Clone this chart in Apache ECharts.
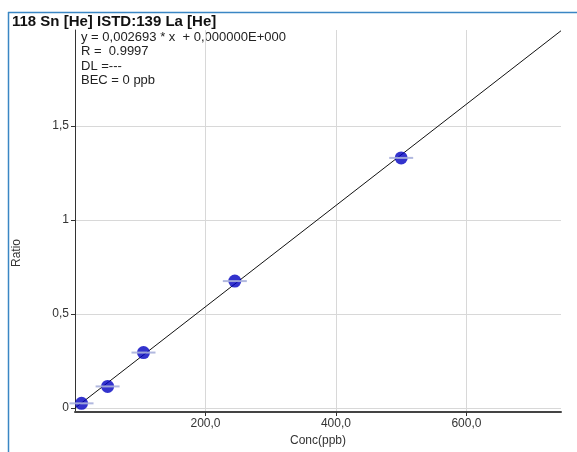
<!DOCTYPE html>
<html>
<head>
<meta charset="utf-8">
<script src="https://cdn.jsdelivr.net/npm/echarts@6/dist/echarts.min.js"></script>
<style>html,body{margin:0;padding:0;background:#fff}#c{width:577px;height:452px}</style>
</head>
<body>
<div id="c"></div>
<script>
var conc = [10, 50, 105, 245, 500];
var ratio = [0.025, 0.115, 0.295, 0.675, 1.33];
var fitX = [0, 745];
var fitY = [0, 2.006];
var yTicks = [0, 0.5, 1, 1.5];
var xTicks = [200, 400, 600];
var titleText = '118 Sn [He] ISTD:139 La [He]';
var infoLines = ['y = 0,002693 * x  + 0,000000E+000', 'R =  0.9997', 'DL =---', 'BEC = 0 ppb'];

var pts = conc.map(function (c, i) { return [c, ratio[i]]; });
var fit = fitX.map(function (x, i) { return [x, fitY[i]]; });
var FONT = 'Liberation Sans';

var chart = echarts.init(document.getElementById('c'), null, {renderer: 'canvas'});
chart.setOption({
  animation: false,
  backgroundColor: '#fff',
  grid: {left: 75, top: 30, right: 16, bottom: 38, containLabel: false},
  xAxis: {
    type: 'value', min: 0, max: 745,
    name: 'Conc(ppb)', nameLocation: 'middle', nameGap: 23,
    nameTextStyle: {color: '#333', fontSize: 12, fontFamily: FONT},
    axisLine: {show: true, onZero: false, lineStyle: {color: '#444', width: 2}},
    axisTick: {show: true, length: 4, customValues: xTicks, lineStyle: {color: '#333'}},
    axisLabel: {customValues: xTicks, color: '#333', fontSize: 12, fontFamily: FONT, margin: 6,
      formatter: function (v) { return v.toFixed(1).replace('.', ','); }},
    splitLine: {show: true, lineStyle: {color: '#d8d8d8', width: 1}}
  },
  yAxis: {
    type: 'value', min: -0.021, max: 2.01,
    axisLine: {show: true, onZero: false, lineStyle: {color: '#333', width: 1}},
    axisTick: {show: true, length: 4, customValues: yTicks, lineStyle: {color: '#333'}},
    axisLabel: {customValues: yTicks, color: '#333', fontSize: 12, fontFamily: FONT, margin: 6,
      formatter: function (v) { return String(v).replace('.', ','); }},
    splitLine: {show: true, lineStyle: {color: '#d8d8d8', width: 1}}
  },
  series: [
    {type: 'line', data: fit, symbol: 'none', lineStyle: {color: '#111', width: 1}, z: 2},
    {type: 'scatter', data: pts, symbol: 'circle', symbolSize: 13,
      itemStyle: {color: '#0000c0'}, z: 3},
    {type: 'scatter', data: pts, symbol: 'rect', symbolSize: [24, 2],
      itemStyle: {color: '#a8b0dc', opacity: 0.9}, z: 4}
  ],
  graphic: [
    {type: 'line', shape: {x1: 8, y1: 12.5, x2: 577, y2: 12.5}, style: {stroke: '#3a86c4', lineWidth: 1.5}},
    {type: 'line', shape: {x1: 8.5, y1: 12, x2: 8.5, y2: 452}, style: {stroke: '#3a86c4', lineWidth: 1.5}},
    {type: 'text', left: 12, top: 14, style: {text: titleText, font: 'bold 15px "Liberation Sans"', fill: '#111', letterSpacing: 0.5}},
    {type: 'text', left: 81, top: 30, style: {text: infoLines.join('\n'), font: '13px "Liberation Sans"', lineHeight: 14.5, fill: '#222'}},
    {type: 'text', x: 17, y: 253, rotation: Math.PI / 2, style: {text: 'Ratio', font: '12px "Liberation Sans"', fill: '#333', align: 'center', verticalAlign: 'middle'}, originX: 0, originY: 0}
  ]
});
</script>
</body>
</html>
